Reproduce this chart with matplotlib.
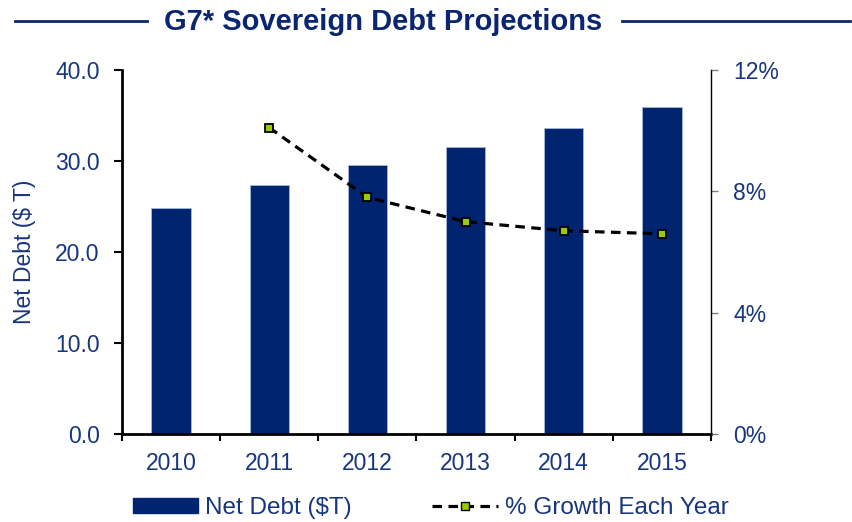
import numpy as np
import matplotlib.pyplot as plt
from matplotlib.lines import Line2D
from matplotlib.patches import Patch

plt.rcParams['font.family'] = ['Liberation Sans', 'DejaVu Sans']

years = ["2010", "2011", "2012", "2013", "2014", "2015"]
net_debt = [24.8, 27.4, 29.6, 31.5, 33.6, 35.9]
growth_years = ["2011", "2012", "2013", "2014", "2015"]
growth = [10.1, 7.8, 7.0, 6.7, 6.6]

navy = "#002470"
txt = "#17367f"
fs = 16.5

fig = plt.figure(figsize=(8.53, 5.22), dpi=100)
ax = fig.add_axes([0.143, 0.1686, 0.6905, 0.6973])

x = np.arange(len(years))
ax.bar(x, net_debt, width=0.4, color=navy, edgecolor="#a8b8d8", linewidth=0.6, zorder=2)
ax.set_xlim(-0.5, len(years) - 0.5)
ax.set_ylim(0, 40)
ax.set_yticks([0, 10, 20, 30, 40])
ax.set_yticklabels(["%.1f" % v for v in [0, 10, 20, 30, 40]])
ax.set_xticks(x)
ax.set_xticklabels(years)
ax.set_xticks(np.arange(-0.5, len(years)), minor=True)
ax.tick_params(axis="x", which="major", length=0, pad=13, labelsize=fs, labelcolor=txt)
ax.tick_params(axis="x", which="minor", length=5, width=1.5, direction="out", color="black")
ax.tick_params(axis="y", length=6, width=1.5, pad=10, labelsize=fs, labelcolor=txt)
ax.set_ylabel("Net Debt ($ T)", fontsize=fs, color=txt, labelpad=14)
for s in ["left", "bottom"]:
    ax.spines[s].set_linewidth(2)
ax.spines["top"].set_visible(False)
ax.spines["right"].set_visible(False)

ax2 = ax.twinx()
gx = [years.index(g) for g in growth_years]
ax2.plot(gx, growth, color="black", lw=2.3, dashes=(3, 2), marker="s", markersize=6,
         markerfacecolor="#99cc00", markeredgecolor="black", markeredgewidth=1.3, zorder=3)
ax2.set_ylim(0, 12)
ax2.set_yticks([0, 4, 8, 12])
ax2.set_yticklabels(["0%", "4%", "8%", "12%"])
ax2.tick_params(axis="y", length=5, width=1, color="#808080", pad=11, labelsize=fs, labelcolor=txt)
ax2.spines["right"].set_linewidth(1)
for s in ["top", "left", "bottom"]:
    ax2.spines[s].set_visible(False)

# title with rules either side
fig.text(0.449, 0.958, "G7* Sovereign Debt Projections", ha="center", va="center",
         fontsize=21, fontweight="bold", color="#0a2672")
fig.add_artist(Line2D([0.018, 0.172], [0.96, 0.96], color="#0a2672", lw=2))
fig.add_artist(Line2D([0.729, 0.997], [0.96, 0.96], color="#0a2672", lw=2))

handles = [Patch(facecolor=navy, edgecolor=navy),
           Line2D([], [], color="black", lw=2.3, dashes=(3, 2), marker="s", markersize=6,
                  markerfacecolor="#99cc00", markeredgecolor="black")]
leg = fig.legend(handles, ["Net Debt ($T)", "% Growth Each Year"], loc="center",
                 bbox_to_anchor=(0.505, 0.027), ncol=2, frameon=False, fontsize=17.5,
                 handlelength=2.7, handleheight=0.6, columnspacing=3.3, handletextpad=0.3)
for t in leg.get_texts():
    t.set_color(txt)

fig.savefig("out.png", dpi=100)
